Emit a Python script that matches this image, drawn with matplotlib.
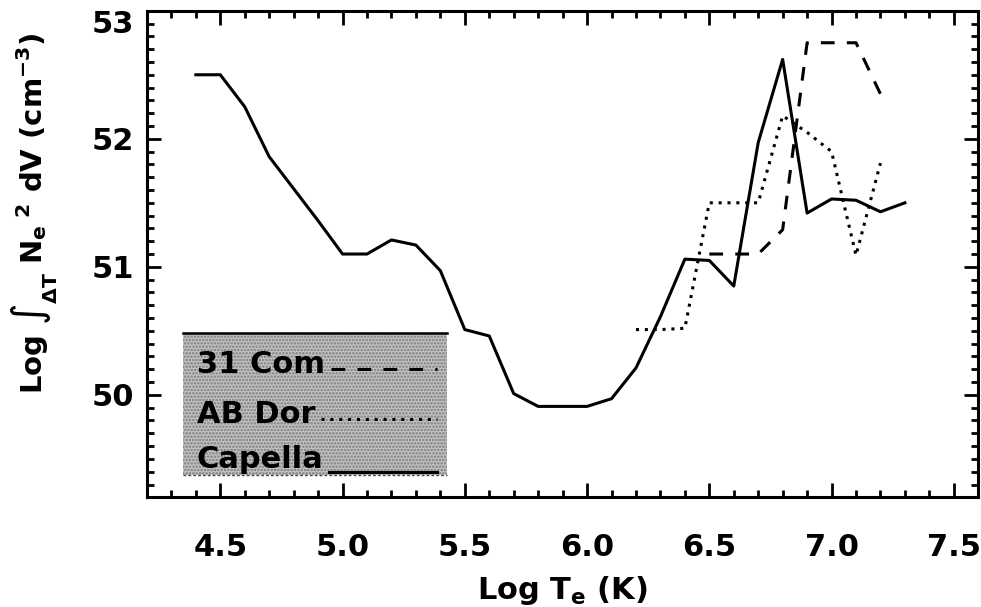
import matplotlib
matplotlib.use("Agg")
import matplotlib.pyplot as plt
from matplotlib.ticker import MultipleLocator, FormatStrFormatter
from matplotlib.patches import Rectangle
from matplotlib.lines import Line2D
import matplotlib.transforms as mtransforms

plt.rcParams['font.family'] = ['DejaVu Sans']
plt.rcParams['font.weight'] = 'bold'
plt.rcParams['mathtext.fontset'] = 'dejavusans'
plt.rcParams['mathtext.default'] = 'bf'
plt.rcParams['hatch.linewidth'] = 1.2

# ---- data ----
capella_logT = [4.4, 4.5, 4.6, 4.7, 4.8, 4.9, 5.0, 5.1, 5.2, 5.3, 5.4, 5.5, 5.6, 5.7, 5.8,
                5.9, 6.0, 6.1, 6.2, 6.3, 6.4, 6.5, 6.6, 6.7, 6.8, 6.9, 7.0, 7.1, 7.2, 7.3]
capella_em = [52.50, 52.50, 52.25, 51.86, 51.61, 51.36, 51.10, 51.10, 51.21, 51.17, 50.97,
              50.51, 50.46, 50.01, 49.91, 49.91, 49.91, 49.97, 50.21, 50.61, 51.06, 51.05,
              50.85, 51.97, 52.62, 51.42, 51.53, 51.52, 51.43, 51.50]

abdor_logT = [6.2, 6.3, 6.4, 6.5, 6.6, 6.7, 6.8, 6.9, 7.0, 7.1, 7.2]
abdor_em = [50.51, 50.51, 50.52, 51.50, 51.50, 51.50, 52.18, 52.05, 51.90, 51.09, 51.81]

com31_logT = [6.5, 6.6, 6.7, 6.8, 6.9, 7.0, 7.1, 7.2]
com31_em = [51.10, 51.10, 51.10, 51.29, 52.75, 52.75, 52.75, 52.35]

series_labels = ['31 Com', 'AB Dor', 'Capella']
x_ticks = [4.5, 5.0, 5.5, 6.0, 6.5, 7.0, 7.5]
y_ticks = [50, 51, 52, 53]

# ---- figure ----
fig = plt.figure(figsize=(9.81, 6.07), dpi=100)
ax = fig.add_axes([0.1498, 0.1807, 0.8474, 0.8016])

lw = 2.2
styles = [(0, (4.5, 4.0)), (0, (1.0, 1.9)), '-']
series = [(com31_logT, com31_em), (abdor_logT, abdor_em), (capella_logT, capella_em)]
for (xs, ys), ls, lab in zip(series, styles, series_labels):
    ax.plot(xs, ys, color='black', lw=lw, linestyle=ls, label=lab)

ax.set_xlim(4.2, 7.6)
ax.set_ylim(49.2, 53.0)
ax.set_xticks(x_ticks)
ax.set_yticks(y_ticks)
ax.xaxis.set_major_formatter(FormatStrFormatter('%.1f'))
ax.yaxis.set_major_formatter(FormatStrFormatter('%d'))
ax.xaxis.set_minor_locator(MultipleLocator(0.1))
ax.yaxis.set_minor_locator(MultipleLocator(0.1))

ax.tick_params(which='both', direction='in', top=True, right=True, width=2.0,
               labelsize=22)
ax.tick_params(which='major', length=10)
ax.tick_params(which='minor', length=5)
ax.tick_params(axis='x', which='major', pad=26)
ax.tick_params(axis='y', which='major', pad=9)
for s in ax.spines.values():
    s.set_linewidth(2.2)

for lab in ax.get_yticklabels():
    if lab.get_text() == '53':
        lab.set_transform(lab.get_transform() +
                          mtransforms.ScaledTranslation(0, -8 / 72, fig.dpi_scale_trans))

ax.set_xlabel('Log T$_{e}$ (K)', fontsize=22, fontweight='bold', labelpad=8)
ax.set_ylabel(r'Log $\int_{\Delta T}$ N$_{e}$$^{\ 2}$ dV (cm$^{-3}$)', fontsize=21,
              fontweight='bold')
ax.yaxis.set_label_coords(-0.104, 0.585)

# ---- legend box drawn IDL-style (label first, line sample after) ----
box_x0, box_x1, box_y0, box_y1 = 0.0437, 0.3605, 0.0458, 0.337
ax.add_patch(Rectangle((box_x0, box_y0), box_x1 - box_x0, box_y1 - box_y0,
                       transform=ax.transAxes, facecolor='#c2c2c2',
                       edgecolor='#7a7a7a', hatch='.....', lw=0, zorder=3))
ax.add_line(Line2D([box_x0, box_x1], [box_y1, box_y1], transform=ax.transAxes,
                   color='black', lw=1.8, zorder=4))
ax.add_line(Line2D([box_x0, box_x1], [box_y0, box_y0], transform=ax.transAxes,
                   color='#444444', lw=1.0, ls=(0, (2, 1.5)), zorder=4))

text_x = 0.0597
baselines = [0.2548, 0.1527, 0.0603]
line_ys = [0.263, 0.160, 0.0526]
line_x1 = 0.3485
texts = []
for lab, yb in zip(series_labels, baselines):
    texts.append(ax.text(text_x, yb, lab, transform=ax.transAxes, fontsize=22,
                         fontweight='bold', ha='left', va='baseline', zorder=5))
fig.canvas.draw()
inv = ax.transAxes.inverted()
for t, ly, ls in zip(texts, line_ys, styles):
    bb = t.get_window_extent()
    x_start = inv.transform((bb.x1 + 6, 0))[0]
    ax.add_line(Line2D([x_start, line_x1], [ly, ly], transform=ax.transAxes,
                       color='black', lw=lw, linestyle=ls, zorder=5))

fig.savefig('out.png', dpi=100)
